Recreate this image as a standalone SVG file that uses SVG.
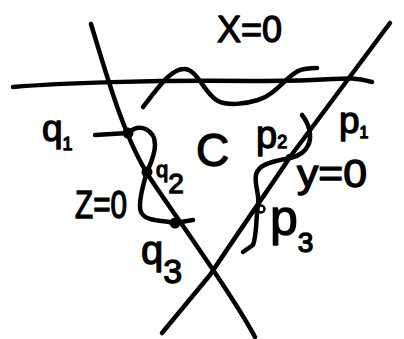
<svg xmlns="http://www.w3.org/2000/svg" width="404" height="339" viewBox="0 0 404 339">
<style>
.s{fill:none;stroke:#000;stroke-width:4.5;stroke-linecap:round;stroke-linejoin:round}
.t{font-family:"Liberation Sans",Arial,sans-serif;fill:#000;stroke:#000;stroke-width:1.3;stroke-linejoin:round}
.d{fill:#000}
</style>
<rect width="404" height="339" fill="#fff"/>
<g id="connectors">
<path id="line-x0" class="s" d="M13,87 C60,83 150,80 250,81 S340,74 372,82"/>
<path id="line-z0" class="s" d="M91,24 C108,80 125,140 150,178 S230,290 255,337"/>
<path id="line-y0" class="s" d="M390,23 L290,157 C275,180 250,215 210,275 L162,333"/>
<path id="curve-c" class="s" d="M143,107 C160,85 172,68 185,69 C198,70 205,95 218,101 C228,106 245,104 258,100 C275,95 285,78 298,71 C305,68 312,68 317,68"/>
<path id="curve-q" class="s" d="M95,135 L128,133 C140,122 155,130 155,145 C155,155 150,165 147,172 C143,185 138,205 141,212 C145,222 165,220 175,223 L193,220"/>
<path id="curve-p" class="s" d="M302,115 C310,125 314,140 305,150 C300,156 292,158 285,159 C270,162 258,165 256,175 C254,185 260,195 258,205 C256,215 257,235 253,245 L243,252"/>
</g>
<g id="q1"><circle class="d" cx="128" cy="133" r="5.5"/><text class="t" x="42" y="141" font-size="37">q<tspan font-size="18" dy="9">1</tspan></text></g>
<g id="q2"><circle class="d" cx="147" cy="172" r="5.5"/><text class="t" x="156" y="177" font-size="22">q<tspan font-size="28" dy="16">2</tspan></text></g>
<g id="q3"><circle class="d" cx="175" cy="223" r="5.5"/><text class="t" x="141" y="264" font-size="40">q<tspan font-size="34" dy="19">3</tspan></text></g>
<g id="p1"><text class="t" x="339" y="133" font-size="37">p<tspan font-size="16" dy="5">1</tspan></text></g>
<g id="p2"><circle class="d" cx="289" cy="157" r="3"/><text class="t" x="256" y="148" font-size="38">p<tspan font-size="18">2</tspan></text></g>
<g id="p3"><circle cx="261" cy="209" r="3.5" fill="none" stroke="#000" stroke-width="2.5"/><text class="t" x="270" y="235" font-size="50">p<tspan font-size="28" dy="17">3</tspan></text></g>
<g id="labels">
<text class="t" x="217" y="42" font-size="36">X=0</text>
<text class="t" x="196" y="166" font-size="46">C</text>
<text class="t" x="75" y="218" font-size="38" textLength="52" lengthAdjust="spacingAndGlyphs">Z=0</text>
<text class="t" x="297" y="187" font-size="38" textLength="70" lengthAdjust="spacingAndGlyphs">y=0</text>
</g>
</svg>
